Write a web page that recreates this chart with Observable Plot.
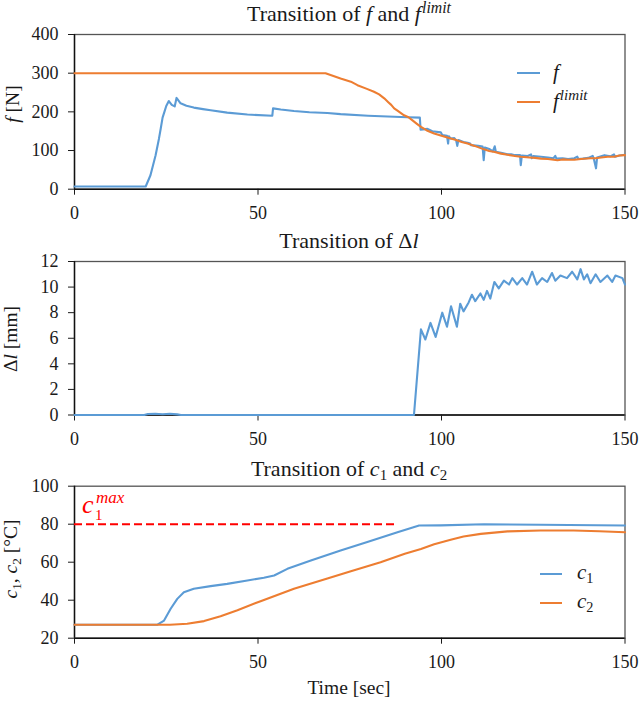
<!DOCTYPE html>
<html><head><meta charset="utf-8">
<script src="https://cdn.jsdelivr.net/npm/d3@7"></script>
<script src="https://cdn.jsdelivr.net/npm/@observablehq/plot@0.6"></script>
<style>
body{margin:0;background:#fff;}
#wrap{position:relative;width:640px;height:701px;font-family:"Liberation Serif","DejaVu Serif",serif;color:#1a1a1a;overflow:hidden}
.abs{position:absolute;white-space:nowrap;line-height:1}
.title{font-size:22px;transform:translateX(-50%)}
.ylab{font-size:19.5px;transform:translate(-50%,-50%) rotate(-90deg)}
.xlab{font-size:19.5px;transform:translate(-50%,-50%)}
i{font-style:italic}
.sup{font-size:0.72em;position:relative;top:-0.5em;line-height:0;margin-left:1px}
.sub{font-size:0.68em;position:relative;top:0.28em;line-height:0}
.sw{position:absolute;height:0;border-top:2.2px solid}
.leg{position:absolute;white-space:nowrap;line-height:1;font-size:21px}
.red{position:absolute;white-space:nowrap;line-height:normal;color:#FF0000}
</style></head><body><div id="wrap"></div>
<script>
// ---------- data ----------
const xTicks = [0, 50, 100, 150];
const fTicks = [0, 100, 200, 300, 400];
const dlTicks = [0, 2, 4, 6, 8, 10, 12];
const cTicks = [20, 40, 60, 80, 100];

// f [N] (blue)
const fTime = [0,19.4,20.7,22.1,23.0,23.5,24.0,24.5,25.0,25.7,26.5,27.3,27.8,28.9,30.5,32.5,35,37.1,41.6,47.1,53.9,54.1,56.2,59.8,64,68.9,72.5,80,90.7,94.1,94.3,96.2,97.5,99.8,100.2,101.5,101.8,102.0,102.5,103.5,104,104.3,104.6,106,107.1,107.8,108,110,111.2,111.5,111.8,113,114,114.5,114.8,116.2,118,119,120,121.4,121.6,121.9,123.5,124.4,124.6,125,127.1,129,130.5,131,131.3,133,134.5,136.2,137,137.3,138.5,140,141.2,141.5,142.1,142.4,144.4,146,147,147.3,148.5,150];
const fVal  = [7,7,36,88,130,157,185,200,215,228,218,214,236,222,216,211,207,204,198,193,190,209,206,202,199,197,194,190,186,185,154,156,150,147,140,138,118,137,131,132,126,112,127,122,120,118,114,112,110,75,108,104,98,111,97,94,90,90,88,88,62,87,86,90,80,86,84,82,80,86,79,80,78,80,84,78,79,81,86,79,54,82,88,85,90,84,87,89];

// f limit [N] (orange)
const fLimTime = [0,68.4,72.5,75.3,77.1,79.5,81.6,83,84.4,85.5,86.3,87.1,88,89.8,91,92.1,93.3,94.4,96,98,100,102.5,104,105.5,107.1,109,111.6,113,114.5,116.2,118,120,121.6,124,125.5,127.1,129,131.6,133,134.5,136.2,138,140.7,142,143.5,145.3,147,148.5,150];
const fLimVal  = [300,300,286,278,269,260,252,245,235,225,218,209,203,191,186,178,169,161,152,144,138,131,127,122,118,112,103,99,96,92,89,86,84,82,81,79,78,75,77,76,76,78,80,80,82,84,84,87,88];

// delta l [mm]
const dlTime = [0,19,20,22,24,26,28,29,92.5,94.4,95.6,97,98.4,100.2,101.5,102.6,104.2,105.1,106,107.4,108.3,109.2,110.6,111.5,112.4,113.3,114.4,115.6,117,118.4,119.3,120.6,122,123.3,124.7,126,127.4,128.8,130.1,131,132.4,134.2,135.6,137,137.9,138.8,139.7,140.6,142,143.3,145.2,146.5,147.4,149.3,150];
const dlVal  = [0,0,0.08,0.1,0.06,0.1,0.05,0,0,6.7,5.9,7.2,6.1,8.0,6.9,8.5,6.9,8.7,8.1,8.8,9.4,8.9,9.5,9.0,9.7,9.1,10.4,9.9,10.5,10.2,10.7,10.2,10.7,10.2,11.2,10.2,10.7,10.4,11.1,10.5,10.9,10.7,11.2,10.6,11.4,10.6,11.0,10.3,11.0,10.4,10.9,10.4,10.9,10.7,10.2];

// c1, c2 [°C]
const c1Time = [0,22.5,24.4,26.2,28,29.8,32.5,37.1,41.6,47.1,51.6,54.4,58,64.4,72.5,80,88,93.9,99.8,111.6,127,150];
const c1Val  = [27.05,27.05,29.3,35.5,40.7,44.2,46.0,47.4,48.6,50.4,51.8,53.0,56.5,60.9,66.1,70.8,75.8,79.3,79.4,80.0,79.7,79.3];
const c2Time = [0,26,30.7,35.3,39.8,44.4,50.7,59.8,68.9,75.3,83.4,90,94.4,98,102.5,106,110.7,118,127,136,143,150];
const c2Val  = [27.05,27.05,27.6,29.0,31.6,34.7,39.5,46.0,51.4,55.2,60.0,64.5,67.0,69.5,71.8,73.5,74.9,76.2,76.7,76.7,76.3,75.8];

// c1 max threshold
const c1Max = [80];
const c1MaxEnd = [88];

// ---------- build ----------
const blue = "#5B9BD5", orange = "#ED7D31";
const FONT = "'Liberation Serif', 'DejaVu Serif', serif";
const zip = (T, V) => T.map((t, i) => ({t, v: V[i]}));
const fData = zip(fTime, fVal), fLimData = zip(fLimTime, fLimVal), dlData = zip(dlTime, dlVal);
const c1Data = zip(c1Time, c1Val), c2Data = zip(c2Time, c2Val);
const thr = [{y: c1Max[0], x1: 0, x2: c1MaxEnd[0]}];

function panel({height, marginTop, marginBottom, yDomain, yTicks, marks}) {
  return Plot.plot({
    width: 640, height, marginLeft: 74, marginRight: 15.5, marginTop, marginBottom,
    style: {fontFamily: FONT, fontSize: "18px", color: "#1a1a1a", background: "transparent", overflow: "visible"},
    x: {domain: [0, 150], ticks: xTicks, tickSize: 6, tickPadding: 11, label: null},
    y: {domain: yDomain, ticks: yTicks, tickSize: 6, tickPadding: 10, label: null},
    marks: [
      Plot.frame({stroke: "#555", strokeWidth: 1.3}),
      Plot.ruleX([0], {stroke: "#111", strokeWidth: 1.4}),
      Plot.ruleY([yDomain[0]], {stroke: "#111", strokeWidth: 1.4}),
      ...marks
    ]
  });
}
const lineOpts = (c) => ({x: "t", y: "v", stroke: c, strokeWidth: 2.1});

const p1 = panel({height: 226, marginTop: 34, marginBottom: 37.3, yDomain: [0, 400], yTicks: fTicks,
  marks: [Plot.line(fData, lineOpts(blue)), Plot.line(fLimData, lineOpts(orange))]});
const p2 = panel({height: 228, marginTop: 35, marginBottom: 39.5, yDomain: [0, 12], yTicks: dlTicks,
  marks: [Plot.line(dlData, lineOpts(blue))]});
const p3 = panel({height: 247, marginTop: 31.7, marginBottom: 63.3, yDomain: [20, 100], yTicks: cTicks,
  marks: [
    Plot.ruleY(thr, {y: "y", x1: "x1", x2: "x2", stroke: "#FF0000", strokeWidth: 2, strokeDasharray: "8,4"}),
    Plot.line(c1Data, lineOpts(blue)), Plot.line(c2Data, lineOpts(orange))
  ]});

const wrap = document.getElementById("wrap");
[[p1, 0], [p2, 226], [p3, 454]].forEach(([s, top]) => {
  s.style.position = "absolute"; s.style.left = "0px"; s.style.top = top + "px";
  s.style.fontFamily = FONT;
  wrap.appendChild(s);
});

function add(html, cls, style) {
  const d = document.createElement("div");
  d.className = cls; d.innerHTML = html; Object.assign(d.style, style); wrap.appendChild(d);
  return d;
}
// titles
add('Transition of <i>f</i> and <i>f</i><span class="sup"><i>limit</i></span>', "abs title", {left: "349px", top: "3px"});
add('Transition of Δ<i>l</i>', "abs title", {left: "349px", top: "230px"});
add('Transition of <i>c</i><span class="sub">1</span> and <i>c</i><span class="sub">2</span>', "abs title", {left: "349px", top: "458px"});
// y labels
add('<i>f</i> [N]', "abs ylab", {left: "12.5px", top: "104px"});
add('Δ<i>l</i> [mm]', "abs ylab", {left: "11px", top: "339px"});
add('<i>c</i><span class="sub">1</span>, <i>c</i><span class="sub">2</span> [°C]', "abs ylab", {left: "11px", top: "559px"});
// x label
add('Time [sec]', "abs xlab", {left: "349px", top: "688px"});
// legend panel 1
add('', "sw", {left: "517px", top: "72px", width: "23px", borderColor: blue});
add('', "sw", {left: "517px", top: "101px", width: "23px", borderColor: orange});
add('<i>f</i>', "leg", {left: "553px", top: "62px"});
add('<i>f</i><span class="sup"><i>limit</i></span>', "leg", {left: "553px", top: "91px"});
// legend panel 3
add('', "sw", {left: "540px", top: "573px", width: "22px", borderColor: blue});
add('', "sw", {left: "540px", top: "602px", width: "22px", borderColor: orange});
add('<i>c</i><span class="sub">1</span>', "leg", {left: "577px", top: "562px"});
add('<i>c</i><span class="sub">2</span>', "leg", {left: "577px", top: "591px"});
// c1 max annotation (c with stacked superscript "max" and subscript "1")
add('<i>c</i>', "red", {left: "82px", top: "490px", fontSize: "26px"});
add('<i>max</i>', "red", {left: "96px", top: "488px", fontSize: "17px"});
add('1', "red", {left: "95px", top: "507px", fontSize: "15px"});
</script></body></html>
